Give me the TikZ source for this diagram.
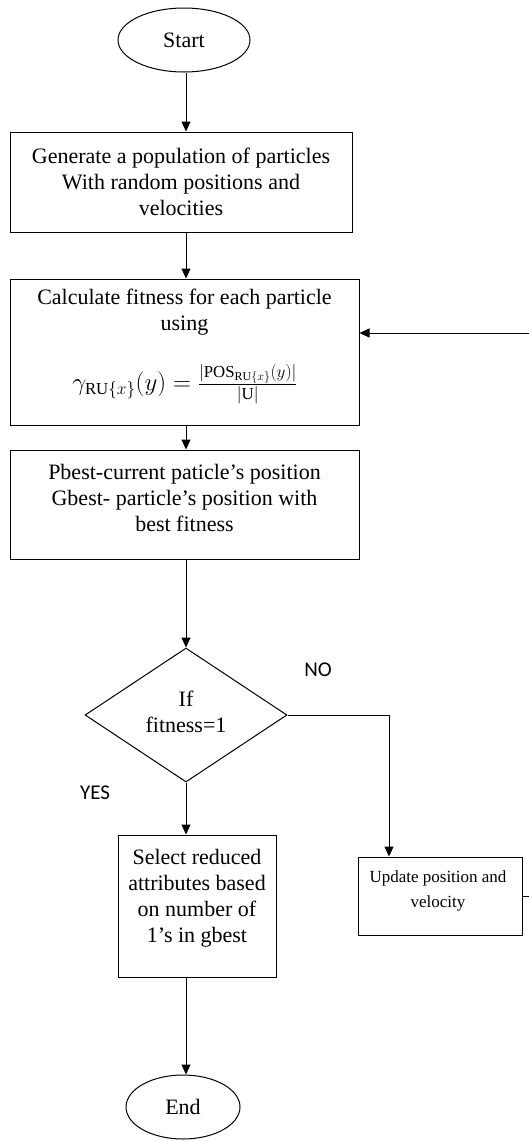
\documentclass[tikz,border=0pt]{standalone}
\usepackage{fontspec}
\setmainfont{Liberation Serif}
\newfontfamily\labfont{Carlito}
\usetikzlibrary{shapes.geometric,arrows.meta}
\begin{document}
\begin{tikzpicture}[x=1pt,y=-1pt,
  txt/.style={font=\fontsize{22}{26}\selectfont, align=center, inner sep=0pt},
  smalltxt/.style={font=\fontsize{17}{25}\selectfont, align=center, inner sep=0pt},
  box/.style={draw, line width=1pt, rectangle, txt},
  term/.style={draw, line width=1pt, ellipse, txt},
  decshape/.style={draw, line width=1pt, diamond, inner sep=0pt, minimum width=202pt, minimum height=134pt},
  arr/.style={line width=1pt, -{Triangle[length=10pt,width=9pt]}},
  ln/.style={line width=1pt},
  lab/.style={font=\labfont\fontsize{21}{24}\selectfont, inner sep=0pt}
]
\useasboundingbox (0,0) rectangle (529,1141);
\coordinate (col) at (186,0);
\coordinate (nox) at (389,0);
\coordinate (loop) at (533,333);

\node[term, minimum width=132pt, minimum height=64pt] (start) at (184,40) {Start};
\node[box, minimum width=342pt, minimum height=100pt] (gen) at (181,182)
  {Generate a population of particles\\With random positions and\\velocities};
\node[box, minimum width=349pt, minimum height=146pt] (calc) at (184.5,352) {};
\node[txt] (calctext) at (184.5,312) {Calculate fitness for each particle\\using};
\node[txt, font=\fontsize{24}{28}\selectfont] (formula) at (185,384)
  {$\gamma_{\mathrm{RU}\{x\}}(y)=\frac{|\mathrm{POS}_{\mathrm{RU}\{x\}}(y)|}{|\mathrm{U}|}$};
\node[box, minimum width=349pt, minimum height=109pt] (pb) at (184.5,504.5) {};
\node[txt] (pbtext) at (184.5,498)
  {Pbest-current paticle’s position\\Gbest- particle’s position with\\best fitness};
\node[decshape] (dec) at (186,715) {};
\node[txt] (dectext) at (186,712) {If\\fitness=1};
\node[box, minimum width=158pt, minimum height=142pt] (sel) at (197,906) {};
\node[txt] (seltext) at (197,898)
  {Select reduced\\attributes based\\on number of\\1’s in gbest};
\node[box, minimum width=164pt, minimum height=78pt] (upd) at (440,896) {};
\node[smalltxt] (updtext) at (438,891) {Update position and\\velocity};
\node[term, minimum width=114pt, minimum height=64pt] (end) at (183,1107) {End};

\node[lab] (no) at (318,670) {NO};
\node[lab] (yes) at (95,793) {YES};

\draw[arr] (col |- start.south) -- (col |- gen.north);
\draw[arr] (col |- gen.south) -- (col |- calc.north);
\draw[arr] (col |- calc.south) -- (col |- pb.north);
\draw[arr] (col |- pb.south) -- (dec.north);
\draw[arr] (dec.south) -- (col |- sel.north);
\draw[arr] (col |- sel.south) -- (col |- end.north);
\draw[arr] (dec.east) -| (nox |- upd.north);
\draw[ln] (upd.east) -| (loop);
\draw[arr] (loop) -- (loop -| calc.east);
\end{tikzpicture}
\end{document}
